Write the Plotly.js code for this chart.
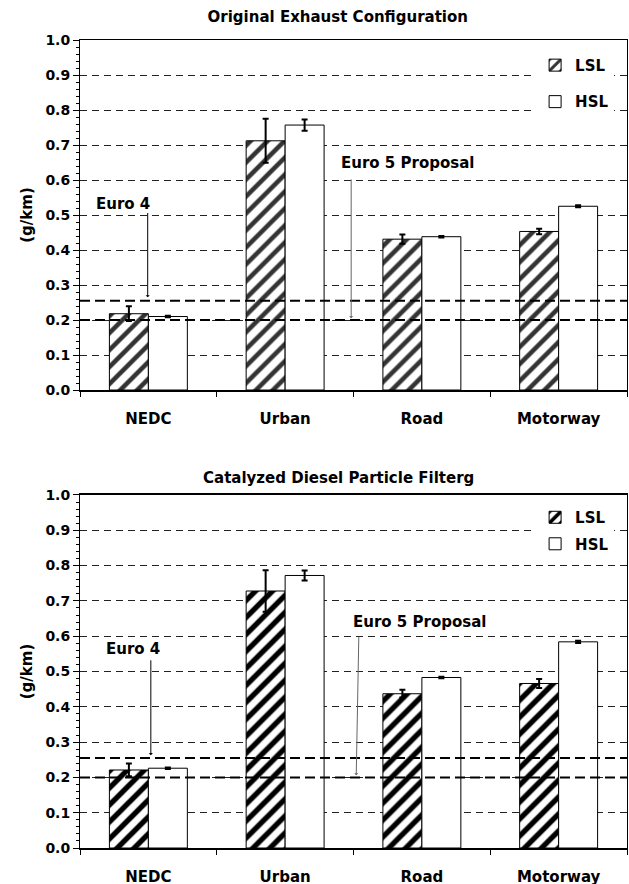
<!DOCTYPE html>
<html>
<head>
<meta charset="utf-8">
<script src="https://cdn.plot.ly/plotly-3.0.1.min.js"></script>
<style>
  html, body { margin: 0; padding: 0; background: #fff; }
  #chart { width: 629px; height: 884px; }
</style>
</head>
<body>
<div id="chart"></div>
<script>
// Drive cycles on the x axis
const categories = ['NEDC', 'Urban', 'Road', 'Motorway'];

// Original exhaust configuration (g/km)
const origLSL = [0.218, 0.712, 0.431, 0.453];
const origLSLErr = [0.021, 0.063, 0.013, 0.008];
const origHSL = [0.210, 0.757, 0.438, 0.525];
const origHSLErr = [0.002, 0.016, 0.002, 0.003];

// Catalyzed diesel particle filter (g/km)
const cdpfLSL = [0.221, 0.728, 0.437, 0.466];
const cdpfLSLErr = [0.018, 0.059, 0.011, 0.013];
const cdpfHSL = [0.226, 0.772, 0.483, 0.584];
const cdpfHSLErr = [0.002, 0.014, 0.002, 0.003];

// Emission limits (g/km)
const euro4Limit = 0.255;
const euro5Limit = 0.2;

const FONT = 'DejaVu Sans, Liberation Sans, Arial, sans-serif';
const boldFont = (size) => ({ family: FONT, size: size, color: '#000', weight: 'bold' });

function lslTrace(y, err, xa, ya, legendId, group, fg, solidity) {
  return {
    type: 'bar', name: 'LSL', x: categories, y: y,
    xaxis: xa, yaxis: ya, legend: legendId, legendgroup: group,
    marker: {
      color: 'white',
      line: { color: '#000', width: 1 },
      pattern: { shape: '/', fgcolor: fg, bgcolor: 'white', size: 12, solidity: solidity }
    },
    error_y: { type: 'data', array: err, visible: true, color: '#000', thickness: 2, width: 3 },
    hoverinfo: 'skip'
  };
}

function hslTrace(y, err, xa, ya, legendId, group) {
  return {
    type: 'bar', name: 'HSL', x: categories, y: y,
    xaxis: xa, yaxis: ya, legend: legendId, legendgroup: group,
    marker: { color: 'white', line: { color: '#000', width: 1 } },
    error_y: { type: 'data', array: err, visible: true, color: '#000', thickness: 2, width: 3 },
    hoverinfo: 'skip'
  };
}

const data = [
  lslTrace(origLSL, origLSLErr, 'x', 'y', 'legend', 'g1', '#333', 0.38),
  hslTrace(origHSL, origHSLErr, 'x', 'y', 'legend', 'g2'),
  lslTrace(cdpfLSL, cdpfLSLErr, 'x2', 'y2', 'legend2', 'g3', '#000', 0.45),
  hslTrace(cdpfHSL, cdpfHSLErr, 'x2', 'y2', 'legend2', 'g4')
];

function xAxis(anchor) {
  return {
    anchor: anchor, type: 'category', domain: [0, 1],
    showline: true, linecolor: '#000', linewidth: 1.5, mirror: true,
    ticks: 'outside', tickson: 'boundaries', ticklen: 5, tickcolor: '#000',
    ticklabelstandoff: 14,
    tickfont: boldFont(15), showgrid: false, zeroline: false, fixedrange: true
  };
}

function yAxis(anchor, domain) {
  return {
    anchor: anchor, domain: domain, range: [0, 1], dtick: 0.1, tickformat: '.1f',
    showline: true, linecolor: '#000', linewidth: 1, mirror: true,
    ticks: 'outside', ticklen: 6, tickcolor: '#000',
    minor: { dtick: 0.02, ticks: 'outside', ticklen: 3, tickcolor: '#000', showgrid: false },
    showgrid: true, gridcolor: '#222', gridwidth: 1, griddash: '7px,5px',
    zeroline: false, tickfont: boldFont(14),
    title: { text: '(g/km)', font: boldFont(15), standoff: 9 },
    fixedrange: true
  };
}

function limitLine(yref, value) {
  return {
    type: 'line', xref: 'x domain', yref: yref, x0: 0, x1: 1, y0: value, y1: value,
    line: { color: '#000', width: 2, dash: '10px,5px' }, layer: 'above'
  };
}

function label(text, xref, yref, x, y) {
  return { text: text, xref: xref, yref: yref, x: x, y: y, showarrow: false,
           font: boldFont(15), xanchor: 'center', yanchor: 'middle' };
}

function pointer(xref, yref, x0, y0, x1, y1, color) {
  return {
    text: '', xref: xref, yref: yref, axref: xref, ayref: yref,
    x: x1, y: y1, ax: x0, ay: y0, showarrow: true,
    arrowhead: 1, arrowsize: 0.7, arrowwidth: 1, arrowcolor: color, standoff: 0, startstandoff: 0
  };
}

const legendBase = {
  x: 0.832, xanchor: 'left', yanchor: 'top', bgcolor: 'white', borderwidth: 0,
  font: boldFont(15), traceorder: 'grouped', itemwidth: 30, itemclick: false, itemdoubleclick: false
};

const layout = {
  width: 629, height: 884,
  margin: { l: 80, r: 2, t: 40, b: 36 },
  paper_bgcolor: 'white', plot_bgcolor: 'white',
  font: boldFont(14),
  title: { text: 'Original Exhaust Configuration', font: boldFont(15),
           x: 0.537, xanchor: 'center', xref: 'container', y: 0.981, yanchor: 'middle', yref: 'container' },
  barmode: 'group', bargap: 0.43, bargroupgap: 0,
  xaxis: xAxis('y'),
  yaxis: yAxis('x', [0.5668, 1]),
  xaxis2: xAxis('y2'),
  yaxis2: yAxis('x2', [0, 0.4369]),
  legend: Object.assign({}, legendBase, { y: 0.989, tracegroupgap: 14 }),
  legend2: Object.assign({}, legendBase, { y: 0.4294, tracegroupgap: 4 }),
  shapes: [
    limitLine('y', euro4Limit), limitLine('y', euro5Limit),
    limitLine('y2', euro4Limit), limitLine('y2', euro5Limit)
  ],
  annotations: [
    { text: 'Catalyzed Diesel Particle Filterg', xref: 'paper', yref: 'paper', x: 0.472, y: 0.458,
      showarrow: false, font: boldFont(15), xanchor: 'center', yanchor: 'middle' },
    label('Euro 4', 'x', 'y', -0.186, 0.532),
    pointer('x', 'y', -0.005, 0.51, -0.005, euro4Limit + 0.01, '#000'),
    label('Euro 5 Proposal', 'x', 'y', 1.895, 0.649),
    pointer('x', 'y', 1.483, 0.606, 1.483, euro5Limit + 0.005, '#666'),
    label('Euro 4', 'x2', 'y2', -0.112, 0.563),
    pointer('x2', 'y2', 0.018, 0.536, 0.018, euro4Limit + 0.008, '#000'),
    label('Euro 5 Proposal', 'x2', 'y2', 1.979, 0.639),
    pointer('x2', 'y2', 1.539, 0.603, 1.52, euro5Limit + 0.006, '#666')
  ]
};

Plotly.newPlot('chart', data, layout, { staticPlot: true, displayModeBar: false });
</script>
</body>
</html>
